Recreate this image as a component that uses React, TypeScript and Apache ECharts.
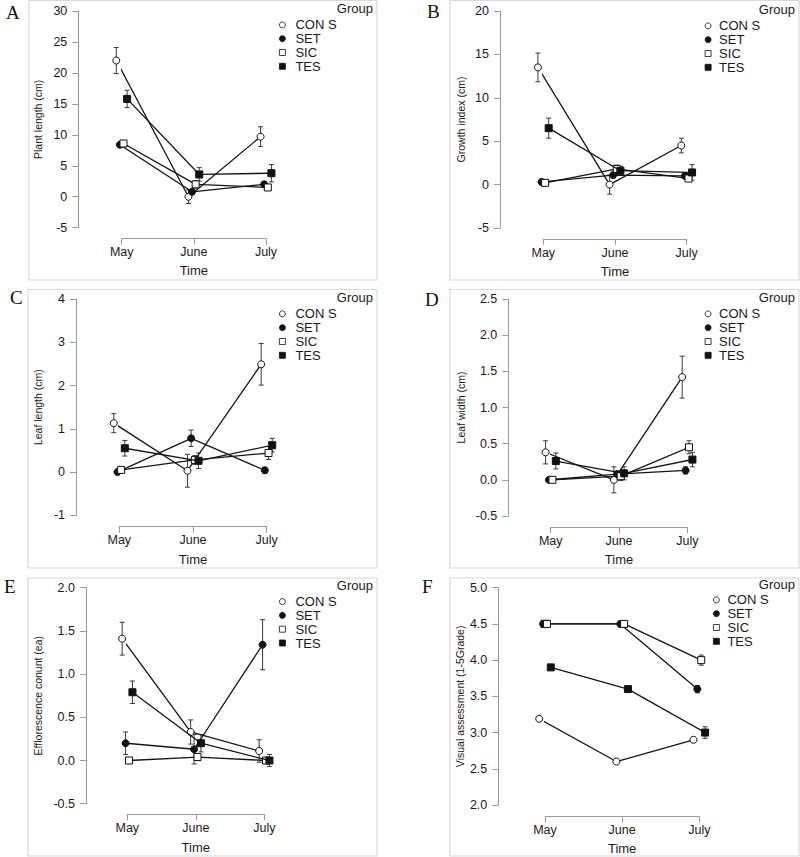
import React, { useEffect, useRef } from 'react';
import * as echarts from 'echarts';

// ---------- data ----------
const months = ['May', 'June', 'July'];
const groups = ['CON S', 'SET', 'SIC', 'TES'];
const panelLetters = ['A', 'B', 'C', 'D', 'E', 'F'];
const yTitles = [
  'Plant length (cm)',
  'Growth index (cm)',
  'Leaf length (cm)',
  'Leaf width (cm)',
  'Efflorescence conunt (ea)',
  'Visual assessment (1-5Grade)',
];
const xTitle = 'Time';
const legendTitle = 'Group';

// y tick values per panel
const yTicksA = [-5, 0, 5, 10, 15, 20, 25, 30];
const yTicksB = [-5, 0, 5, 10, 15, 20];
const yTicksC = [-1, 0, 1, 2, 3, 4];
const yTicksD = [-0.5, 0, 0.5, 1, 1.5, 2, 2.5];
const yTicksE = [-0.5, 0, 0.5, 1, 1.5, 2];
const yTicksF = [2, 2.5, 3, 3.5, 4, 4.5, 5];
const yDecimals = [0, 0, 0, 1, 1, 1];

// means (rows: CON S, SET, SIC, TES; cols: May, June, July)
const plantLengthMean = [[22.0, 0.0, 9.7], [8.4, 0.8, 2.0], [8.6, 2.0, 1.5], [15.8, 3.6, 3.8]];
const plantLengthSE = [[2.1, 1.1, 1.6], [0.3, 0.4, 0.4], [0.4, 0.6, 0.4], [1.4, 1.1, 1.4]];

const growthIndexMean = [[13.5, 0.0, 4.5], [0.3, 1.1, 1.0], [0.2, 1.8, 0.7], [6.5, 1.6, 1.4]];
const growthIndexSE = [[1.65, 1.1, 0.85], [0.2, 0.3, 0.3], [0.2, 0.45, 0.3], [1.15, 0.5, 0.9]];

const leafLengthMean = [[1.13, 0.03, 2.49], [0.0, 0.78, 0.04], [0.05, 0.28, 0.44], [0.55, 0.26, 0.62]];
const leafLengthSE = [[0.22, 0.38, 0.48], [0.05, 0.19, 0.07], [0.07, 0.1, 0.15], [0.18, 0.18, 0.16]];

const leafWidthMean = [[0.38, 0.0, 1.42], [0.0, 0.08, 0.13], [0.0, 0.05, 0.45], [0.26, 0.09, 0.28]];
const leafWidthSE = [[0.16, 0.18, 0.29], [0.01, 0.04, 0.05], [0.01, 0.06, 0.09], [0.11, 0.09, 0.1]];

const effloMean = [[1.41, 0.33, 0.11], [0.2, 0.13, 1.34], [0.0, 0.04, 0.0], [0.79, 0.2, 0.0]];
const effloSE = [[0.19, 0.14, 0.13], [0.13, 0.17, 0.29], [0.0, 0.02, 0.0], [0.13, 0.1, 0.07]];

const visualMean = [[3.19, 2.6, 2.9], [4.5, 4.5, 3.6], [4.5, 4.5, 4.0], [3.9, 3.6, 3.0]];
const visualSE = [[0.03, 0.02, 0.03], [0.05, 0.03, 0.05], [0.05, 0.04, 0.07], [0.03, 0.03, 0.08]];

const panelMeans = [plantLengthMean, growthIndexMean, leafLengthMean, leafWidthMean, effloMean, visualMean];
const panelSEs = [plantLengthSE, growthIndexSE, leafLengthSE, leafWidthSE, effloSE, visualSE];
const panelTicks = [yTicksA, yTicksB, yTicksC, yTicksD, yTicksE, yTicksF];

// ---------- styles / layout ----------
const dodge = [-0.075, -0.025, 0.025, 0.075];
const symbolTypes = ['circle', 'circle', 'rect', 'rect'];
const legendIcons = ['circle', 'circle', 'path://M0,0L10,0L10,10L0,10Z', 'path://M0,0L10,0L10,10L0,10Z'];
const symbolFills = ['#ffffff', '#111111', '#ffffff', '#111111'];
const FONT = '"Liberation Sans", Arial, sans-serif';
const AXIS_COLOR = '#9a9a9a';
const TEXT_COLOR = '#1a1a1a';

type Layout = {
  mayX: number; julyX: number; top: number; bottom: number;
  yAxisX: number; xAxisY: number; yNameGap: number; xNameGap: number;
  legSym: number; legLabel: number; legY: number;
  groupRight: number; groupY: number;
  letterX: number; letterY: number;
  box: [number, number, number, number];
};

const layouts: Layout[] = [
  { mayX: 121.7, julyX: 266, top: 11, bottom: 227.7, yAxisX: 78.3, xAxisY: 238.7, yNameGap: 35, xNameGap: 25.5,
    legSym: 287, legLabel: 300, legY: 25, groupRight: 373, groupY: 8, letterX: 6, letterY: 12, box: [29, 0.5, 348, 279.5] },
  { mayX: 543.3, julyX: 686.7, top: 11, bottom: 228, yAxisX: 500, xAxisY: 239, yNameGap: 34, xNameGap: 25.5,
    legSym: 710.7, legLabel: 721.7, legY: 26, groupRight: 795, groupY: 9, letterX: 427, letterY: 11.5, box: [450, 0.5, 349, 279.5] },
  { mayX: 119.3, julyX: 266.7, top: 299, bottom: 515.3, yAxisX: 76, xAxisY: 526.7, yNameGap: 33, xNameGap: 25.8,
    legSym: 287, legLabel: 300, legY: 314, groupRight: 373, groupY: 297, letterX: 10, letterY: 297.5, box: [28, 289.5, 349, 278.5] },
  { mayX: 550.7, julyX: 687.3, top: 299, bottom: 516, yAxisX: 508.3, xAxisY: 527.3, yNameGap: 42, xNameGap: 25.8,
    legSym: 710.7, legLabel: 721.7, legY: 314, groupRight: 795, groupY: 297, letterX: 425, letterY: 299, box: [450, 289.5, 349, 278.5] },
  { mayX: 127.3, julyX: 264.3, top: 587.7, bottom: 803.7, yAxisX: 86, xAxisY: 814.3, yNameGap: 43, xNameGap: 27,
    legSym: 287, legLabel: 300, legY: 601.7, groupRight: 373, groupY: 585.7, letterX: 4, letterY: 586, box: [28, 578, 349, 278] },
  { mayX: 545, julyX: 699.3, top: 587.7, bottom: 805, yAxisX: 498.3, xAxisY: 816.7, yNameGap: 33, xNameGap: 25,
    legSym: 719, legLabel: 730, legY: 600, groupRight: 795, groupY: 584.3, letterX: 422, letterY: 586.5, box: [450, 578, 349, 278] },
];

function buildOption() {
  const grid: any[] = [];
  const xAxis: any[] = [];
  const yAxis: any[] = [];
  const series: any[] = [];
  const legend: any[] = [];
  const graphic: any[] = [];

  layouts.forEach((L, p) => {
    const ticks = panelTicks[p];
    const yMin = ticks[0];
    const yMax = ticks[ticks.length - 1];
    const interval = ticks[1] - ticks[0];
    const dec = yDecimals[p];

    grid.push({ left: L.mayX, top: L.top, width: L.julyX - L.mayX, height: L.bottom - L.top, containLabel: false });

    xAxis.push({
      type: 'value', gridIndex: p, min: 1, max: 3, interval: 1,
      offset: L.xAxisY - L.bottom,
      axisLine: { show: true, onZero: false, lineStyle: { color: AXIS_COLOR, width: 1 } },
      axisTick: { show: true, length: 6, lineStyle: { color: AXIS_COLOR, width: 1 } },
      axisLabel: { formatter: (v: number) => months[Math.round(v) - 1] || '', margin: 7, fontSize: 12.5, color: TEXT_COLOR, fontFamily: FONT },
      splitLine: { show: false },
      name: xTitle, nameLocation: 'middle', nameGap: L.xNameGap,
      nameTextStyle: { fontSize: 13, color: TEXT_COLOR, fontFamily: FONT },
    });

    yAxis.push({
      type: 'value', gridIndex: p, min: yMin, max: yMax, interval,
      offset: L.mayX - L.yAxisX,
      axisLine: { show: true, onZero: false, lineStyle: { color: AXIS_COLOR, width: 1 } },
      axisTick: { show: true, length: 6, lineStyle: { color: AXIS_COLOR, width: 1 } },
      axisLabel: { formatter: (v: number) => v.toFixed(dec), margin: 11, fontSize: 12.5, color: TEXT_COLOR, fontFamily: FONT },
      splitLine: { show: false },
      name: yTitles[p], nameLocation: 'middle', nameGap: L.yNameGap,
      nameTextStyle: { fontSize: 10.5, color: TEXT_COLOR, fontFamily: FONT },
    });

    const means = panelMeans[p];
    const ses = panelSEs[p];
    groups.forEach((g, gi) => {
      series.push({
        name: g + ' SE', type: 'custom', xAxisIndex: p, yAxisIndex: p, z: 2, silent: true,
        encode: { x: 0, y: [1, 2] },
        data: months.map((_, mi) => [mi + 1 + dodge[gi], means[gi][mi] - ses[gi][mi], means[gi][mi] + ses[gi][mi]]),
        renderItem: (params: any, api: any) => {
          const x = api.value(0);
          const lo = api.coord([x, api.value(1)]);
          const hi = api.coord([x, api.value(2)]);
          const st = { stroke: '#3a3a3a', lineWidth: 1, fill: 'none' };
          return {
            type: 'group',
            children: [
              { type: 'line', shape: { x1: lo[0], y1: lo[1], x2: hi[0], y2: hi[1] }, style: st },
              { type: 'line', shape: { x1: lo[0] - 2.5, y1: lo[1], x2: lo[0] + 2.5, y2: lo[1] }, style: st },
              { type: 'line', shape: { x1: hi[0] - 2.5, y1: hi[1], x2: hi[0] + 2.5, y2: hi[1] }, style: st },
            ],
          };
        },
      });
      series.push({
        name: g, type: 'line', xAxisIndex: p, yAxisIndex: p, z: 3 + gi, clip: false,
        data: months.map((_, mi) => [mi + 1 + dodge[gi], means[gi][mi]]),
        symbol: symbolTypes[gi], symbolSize: 7, showSymbol: true,
        itemStyle: { color: symbolFills[gi], borderColor: '#111111', borderWidth: 1 },
        lineStyle: { color: '#151515', width: 1.3 },
        emphasis: { disabled: true },
      });
    });

    const W = (L.legLabel - L.legSym - 5) * 2;
    legend.push({
      orient: 'vertical', left: L.legSym - W / 2, top: L.legY - 7, padding: 0,
      itemWidth: W, itemHeight: 6, itemGap: 0, selectedMode: false, symbolKeepAspect: true,
      textStyle: { fontSize: 13, color: TEXT_COLOR, fontFamily: FONT, lineHeight: 13.8 },
      data: groups.map((g, gi) => ({
        name: g, icon: legendIcons[gi],
        itemStyle: { color: symbolFills[gi], borderColor: '#111111', borderWidth: 0.8 },
      })),
    });

    const [bx, by, bw, bh] = L.box;
    graphic.push({ type: 'rect', shape: { x: bx, y: by, width: bw, height: bh }, style: { fill: 'none', stroke: '#d9d9d9', lineWidth: 1.2 }, z: 0, silent: true });
    graphic.push({ type: 'text', x: L.letterX, y: L.letterY, style: { text: panelLetters[p], font: '19px "Liberation Serif", "DejaVu Serif", serif', fill: '#111', textAlign: 'left', textVerticalAlign: 'middle' }, silent: true });
    graphic.push({ type: 'text', x: L.groupRight, y: L.groupY, style: { text: legendTitle, font: '13px ' + FONT, fill: TEXT_COLOR, textAlign: 'right', textVerticalAlign: 'middle' }, silent: true });
  });

  return { animation: false, backgroundColor: '#ffffff', grid, xAxis, yAxis, series, legend, graphic };
}

export default function App() {
  const ref = useRef<HTMLDivElement>(null);
  useEffect(() => {
    if (!ref.current) return;
    const chart = echarts.init(ref.current, undefined, { renderer: 'svg' });
    chart.setOption(buildOption() as any);
    return () => chart.dispose();
  }, []);
  return <div ref={ref} style={{ position: 'fixed', left: 0, top: 0, width: 800, height: 857, background: '#fff' }} />;
}
